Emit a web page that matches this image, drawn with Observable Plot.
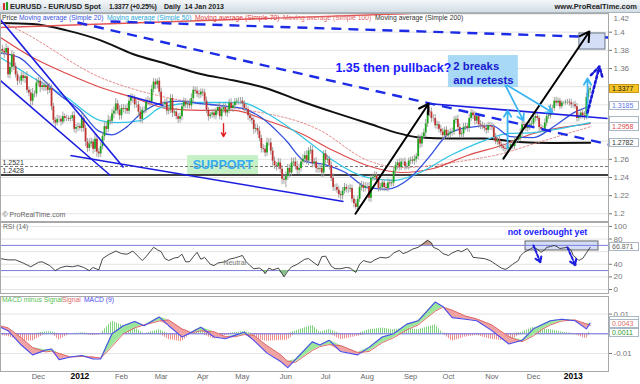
<!DOCTYPE html>
<html><head><meta charset="utf-8">
<script src="https://cdn.jsdelivr.net/npm/d3@7"></script>
<script src="https://cdn.jsdelivr.net/npm/@observablehq/plot@0.6"></script>
<style>
html,body{margin:0;padding:0;background:#fff;}
#wrap{position:relative;width:640px;height:384px;overflow:hidden;font-family:"Liberation Sans",Arial,sans-serif;color:#333;}
.abs{position:absolute;white-space:nowrap;}
#hdr{left:0;top:0;width:640px;height:13px;background:linear-gradient(#f4f7f9,#d3dde4);border-bottom:1px solid #a9b5bd;box-sizing:border-box;}
.ht{font-weight:bold;font-size:7.5px;color:#222;top:1.5px;line-height:10px;}
.lg{font-size:6.75px;line-height:8px;}
.vb{position:absolute;left:609px;width:26px;height:7px;line-height:7px;font-size:7px;padding-left:2px;border:1px solid #a9b6c6;background:#fff;white-space:nowrap;}
</style></head>
<body>
<svg width="0" height="0" style="position:absolute">
 <defs>
  <pattern id="hgreen" width="2" height="4" patternUnits="userSpaceOnUse"><rect width="1" height="4" fill="#7fd27f"/></pattern>
  <pattern id="hred" width="2" height="4" patternUnits="userSpaceOnUse"><rect width="1" height="4" fill="#ee9090"/></pattern>
 </defs>
</svg>
<div id="wrap">
 <div id="pPrice" class="abs" style="left:0;top:13px"></div>
 <div id="pRsi" class="abs" style="left:0;top:222px"></div>
 <div id="pMacd" class="abs" style="left:0;top:296px"></div>
 <div id="hdr" class="abs">
  <span class="abs" style="left:3px;top:3px;width:2px;height:7px;background:#d03030"></span>
  <span class="abs" style="left:6px;top:2px;width:2px;height:8px;background:#20a020"></span>
  <span class="abs ht" style="left:10px">EURUSD - EUR/USD Spot</span>
  <span class="abs ht" style="left:109px;font-size:7px;letter-spacing:-0.3px">1.3377 (+0.25%)</span>
  <span class="abs ht" style="left:164px;font-size:7px">Daily&nbsp; 14 Jan 2013</span>
  <span class="abs ht" style="right:3px">www.ProRealTime.com</span>
 </div>
 <span class="abs lg" style="left:2px;top:13.5px;color:#333">Price</span>
 <span class="abs lg" style="left:19px;top:13.5px;color:#3a55e0">Moving average (Simple 20)</span>
 <span class="abs lg" style="left:107px;top:13.5px;color:#2aa8d8">Moving average (Simple 50)</span>
 <span class="abs lg" style="left:195px;top:13.5px;color:#e04040">Moving average (Simple 70)</span>
 <span class="abs lg" style="left:283px;top:13.5px;color:#e06a6a">Moving average (Simple 100)</span>
 <span class="abs lg" style="left:375px;top:13.5px;color:#333">Moving average (Simple 200)</span>
 <span class="abs lg" style="left:3px;top:222.5px;color:#666">RSI (14)</span>
 <span class="abs lg" style="left:2px;top:296px;color:#55c055">MACD minus Signal</span>
 <span class="abs lg" style="left:62px;top:296px;color:#e06a6a">Signal</span>
 <span class="abs lg" style="left:84px;top:296px;color:#4b4bf0">MACD (9)</span>
</div>
<script>
// ---------- DATA ----------
const monthNames = ["Jan","Feb","Mar","Apr","May","Jun","Jul","Aug","Sep","Oct","Nov","Dec"];
const firstDay = "2011-11-03";
const firstOpen = 13760; // pips (x 1e-4)
const closes = [
 13810,13790,13770,13820,13530,13610,13750,13620,13530,13460,13460,13520,13490,13510,13360,13330,13240,13320,13320,13440,
 13460,13390,13410,13390,13410,13360,13380,13180,13030,13000,13040,13040,13010,13070,13050,13050,13040,13050,13080,12930,12950,12960,
 12940,13050,12940,12790,12720,12770,12790,12710,12820,12680,12660,12740,12850,12960,12930,13030,13020,13100,13130,13210,13140,13080,
 13160,13150,13160,13130,13240,13280,13270,13200,13200,13120,13040,13140,13140,13230,13240,13230,13370,13450,13420,13460,13340,
 13200,13200,13220,13130,13140,13270,13110,13120,13070,13040,13070,13180,13230,13200,13210,13190,13270,13360,13350,13320,13310,13340,
 13330,13240,13140,13070,13090,13110,13080,13130,13170,13070,13150,13170,13110,13140,13220,13160,13190,13230,13240,13240,13240,
 13210,13160,13150,13080,13050,13030,12930,12940,12910,12830,12720,12710,12670,12780,12780,12690,12580,12530,12520,12560,12490,12380,12370,
 12410,12500,12450,12560,12570,12520,12480,12500,12570,12600,12640,12580,12690,12700,12550,12570,12500,12490,12500,12450,12660,
 12590,12600,12530,12390,12290,12290,12260,12210,12200,12250,12290,12270,12270,12280,12160,12110,12070,12160,12290,12310,12280,12300,
 12300,12170,12390,12400,12420,12370,12280,12290,12340,12290,12280,12340,12330,12340,12470,12530,12560,12510,12570,12570,12520,12520,12580,
 12590,12580,12600,12630,12820,12770,12850,12890,12990,13130,13120,13050,13050,12970,12980,12930,12900,12860,12920,12860,
 12880,12900,12900,13030,13040,12950,12870,12880,12950,12960,12940,13050,13110,13080,13020,13070,12980,12970,12960,12940,12920,12970,12960,
 12950,12840,12790,12810,12760,12740,12720,12710,12720,12730,12760,12740,12810,12810,12830,12890,12980,12970,12940,12950,12980,12990,
 13050,13070,13050,12950,12930,12930,13000,13070,13080,13160,13160,13240,13220,13240,13180,13220,13220,13230,13230,13220,13200,
 13200,13180,13050,13070,13110,13080,13070,13280,13360,13377
];
const wickUp = [
 40,45,35,50,25,60,45,30,40,35,50,40,45,30,55,35,40,60,35,50,
 45,40,50,35,45,30,55,40,35,30,45,40,35,50,30,35,25,30,40,45,35,40,
 30,50,45,35,40,55,45,30,60,40,35,45,40,50,45,55,40,50,45,60,40,50,
 40,45,35,50,45,40,35,30,45,40,55,35,40,45,50,35,45,40,35,26,40,
 45,35,40,50,35,45,40,35,45,30,40,35,45,40,35,45,50,40,35,45,40,35,
 35,40,45,30,25,40,45,35,40,50,35,40,45,35,40,45,35,40,30,35,40,
 40,35,45,30,50,40,35,45,40,50,35,45,40,55,45,50,40,45,35,50,45,40,55,
 50,45,40,55,45,50,60,45,40,50,45,55,40,50,45,40,50,45,40,55,35,
 40,45,35,40,50,35,40,45,35,40,45,35,40,45,35,40,45,35,50,45,40,45,
 40,45,35,40,45,40,35,45,40,35,40,45,35,40,45,40,35,45,40,35,45,40,35,
 35,40,45,35,50,45,40,45,50,60,42,45,40,45,40,35,45,40,35,40,
 40,35,45,40,35,45,40,35,45,40,35,45,40,35,45,40,35,45,40,35,45,40,35,
 40,35,45,30,40,35,30,35,40,35,30,35,40,35,30,45,40,35,30,35,40,35,
 40,35,45,30,35,40,45,35,40,45,35,40,45,35,30,25,20,25,30,35,40,
 30,40,35,40,35,40,45,50,40,26
];
const wickDn = [
 35,40,60,30,40,45,55,40,35,50,30,45,40,55,35,40,60,50,45,35,
 40,55,35,45,40,50,35,45,40,55,30,35,45,30,40,35,25,30,35,40,50,45,
 25,45,40,50,45,35,40,55,35,56,45,40,35,45,50,35,45,40,55,40,45,50,
 45,40,55,35,40,45,50,40,35,45,40,50,45,35,40,45,35,40,50,45,35,
 40,50,35,45,40,35,50,40,35,45,40,45,35,40,45,35,40,50,35,40,45,40,
 40,45,35,50,30,40,35,45,40,35,45,40,35,50,40,35,45,40,35,40,35,
 45,40,35,50,40,45,55,40,45,35,50,40,45,40,35,45,55,40,50,35,45,60,45,
 82,40,50,35,45,40,45,50,40,35,45,40,50,35,45,40,50,45,40,50,45,
 45,40,50,35,40,45,35,40,50,45,35,40,45,35,40,45,28,50,35,40,45,40,
 35,40,45,35,40,45,40,35,40,45,35,40,45,35,40,35,45,40,35,40,45,35,40,
 40,35,45,40,35,50,40,35,45,40,50,45,40,35,45,40,35,45,40,35,
 35,40,45,35,40,45,35,40,45,35,40,45,35,40,45,35,40,45,35,40,45,35,40,
 35,40,30,35,40,30,35,40,30,35,40,30,35,40,30,35,40,30,35,40,30,35,
 35,40,30,45,35,30,35,40,30,35,40,30,35,40,30,25,20,25,30,35,40,
 35,30,40,35,30,35,40,35,45,40
];

const priceTicks = [1.2,1.22,1.24,1.26,1.28,1.3,1.32,1.34,1.36,1.38,1.4,1.42];
const priceTickLabels = [1.2,1.22,1.24,1.26,1.36,1.38,1.4];   // others are covered by value boxes
const priceTopLabel = [1.42];
const supportLevels = [1.2521, 1.2428];

// moving averages (trading-day index, value)
const sma20Day = [0,10,20,30,42,52,59,67,74,85,95,107,117,128,138,151,161,172,182,194,204,217,227,237,247,260,270,282,292,304,312];
const sma20Val = [1.377,1.372,1.353,1.333,1.314,1.291,1.287,1.296,1.310,1.322,1.324,1.321,1.319,1.316,1.306,1.281,1.258,1.254,1.246,1.229,1.227,1.240,1.263,1.288,1.295,1.297,1.285,1.284,1.295,1.312,1.3185];
const sma50Day = [0,17,35,53,62,74,85,106,127,141,155,169,176,194,208,222,238,256,268,282,296,312];
const sma50Val = [1.3721,1.3501,1.3281,1.3027,1.3005,1.3027,1.3171,1.3226,1.3226,1.3105,1.2917,1.2697,1.2587,1.2400,1.2367,1.2455,1.2642,1.2807,1.2884,1.2895,1.2939,1.3005];
const sma70Day = [0,17,35,53,70,88,106,123,141,159,176,194,212,229,247,265,282,308,312];
const sma70Val = [1.3942,1.3721,1.3545,1.3391,1.3281,1.3160,1.3138,1.3138,1.3027,1.2884,1.2697,1.2532,1.2455,1.2499,1.2642,1.2752,1.2884,1.2983,1.2995];
const sma100Day = [0,7,53,88,123,169,194,212,247,265,282,312];
const sma100Val = [1.411,1.405,1.350,1.328,1.317,1.292,1.259,1.251,1.259,1.266,1.277,1.2958];
const sma200Day = [0,17,35,53,70,88,106,123,141,159,176,194,212,222,238,256,274,291,312];
const sma200Val = [1.410,1.409,1.402,1.391,1.376,1.365,1.354,1.347,1.338,1.324,1.312,1.300,1.288,1.284,1.283,1.283,1.279,1.278,1.2782];

// drawn lines: [day1, price1, day2, price2]
const redTrend = [[0,1.4052,217,1.4206]];
const blueTrend = [[0,1.4136,65.1,1.2510],[0,1.3468,58.2,1.2422],[37,1.2642,181.5,1.2135],[67.2,1.3303,86.2,1.3193],[225.9,1.3215,321.2,1.3050]];
const dashedTrend = [[40.7,1.4107,321.7,1.2764],[58.2,1.4118,321.7,1.3942]];
const blackArrows = [[187.8,1.2001,226.5,1.3212],[266.1,1.2608,311.6,1.4008]];
const cyanArrows = [[268.3,1.2719,268.3,1.3137],[310.6,1.3061,310.6,1.3490],[267.2,1.3413,276.7,1.3027],[268.3,1.3413,292.1,1.3116]];
const dottedArrows = [[310.6,1.3116,316.9,1.3622]];
const redArrows = [[118,1.2993,118,1.2851]];
// boxes: [day1, day2, price1, price2]
const targetBox = [[306.3,320.1,1.3809,1.3986]];
const noteBox = [[237,274,1.339,1.3743]];
const supportBox = [[99,136.5,1.2432,1.2641]];
// notes: day, price
const pullbackNote = [{d:177.2, p:1.3603, t:"1.35 then pullback?"}];
const breaksNote = [{d:239.6, p:1.3625, t:"2 breaks"},{d:239.6, p:1.3472, t:"and retests"}];
const supportNote = [{d:117.7, p:1.2537, t:"SUPPORT"}];
const priceLabelVals = [1.3003, 1.2958, 1.2782, 1.3185, 1.3377];

// RSI
const rsiDay = [0,4,8,12,16,20,22,26,29,32,35,38,41,44,47,49,52,54,57,61,64,67,70,73,75,77,81,83,85,87,89,92,94,96,98,100,102,104,106,108,111,113,115,119,121,124,126,128,130,132,134,137,139,140,142,144,147,149,150,152,154,157,159,161,163,166,168,170,172,175,177,180,183,185,188,190,192,194,196,198,201,204,206,208,211,213,215,218,221,223,226,228,229,232,234,237,239,242,244,247,249,250,253,256,258,259,262,265,267,268,271,274,275,277,279,282,284,286,288,289,291,293,295,296,298,300,302,303,305,306,307,308,310,312];
const rsiVal = [49,47,47,42,36,43,44,38,30,35,37,36,38,35,30,35,31,49,55,61,57,56,61,52,46,52,67,63,60,49,46,50,51,56,44,44,52,59,48,51,40,38,42,44,48,50,52,54,44,38,33,34,30,25,34,31,34,25,20,29,36,40,44,48,49,42,38,52,53,37,33,33,35,34,27,40,46,44,43,47,51,50,52,58,62,57,59,64,67,71,78,74,67,63,57,54,58,62,60,65,57,51,50,49,47,46,40,34,32,33,40,46,53,59,62,67,64,59,63,67,68,70,67,65,66,67,62,54,49,46,48,49,58,66.871];
const rsiTicks = [0,20,40,60,80,100];
const rsiTickLabels = [0,20,40,80,100];
const rsiBands = [30,70];
const rsiBox = [[277.8,316.4,61.9,76.2]];
const rsiArrows = [[282,69.8,285.7,42.9],[300,66.7,304.2,38.1]];
const rsiNotes = [{d:289.4, v:90.5, t:"not overbought yet"}];
const neutralNote = [{d:124, v:43, t:"Neutral"}];

// MACD
const macdDay = [0,4,11,17,24,27,31,37,43,49,53,59,65,71,76,84,89,96,101,106,113,119,124,129,134,141,148,152,156,165,169,174,180,189,195,202,208,215,221,230,234,239,246,252,260,269,276,282,287,291,297,304,310,312];
const macdVal = [0.0033,0.0016,-0.0057,-0.0107,-0.0082,-0.0077,-0.0131,-0.0118,-0.0110,-0.0128,-0.0128,0.0000,0.0041,0.0062,0.0041,0.0085,0.0041,-0.0016,0.0008,0.0033,-0.0016,-0.0025,-0.0008,0.0008,-0.0033,-0.0098,-0.0139,-0.0172,-0.0131,-0.0041,-0.0057,-0.0033,-0.0090,-0.0107,-0.0069,-0.0016,0.0000,0.0049,0.0066,0.0161,0.0139,0.0082,0.0074,0.0066,0.0016,-0.0052,-0.0033,0.0025,0.0049,0.0066,0.0074,0.0066,0.0025,0.0054];
const sigVal = [0.0040,0.0030,-0.0020,-0.0070,-0.0092,-0.0088,-0.0100,-0.0118,-0.0115,-0.0118,-0.0124,-0.0065,0.0000,0.0030,0.0045,0.0065,0.0070,0.0025,0.0005,0.0015,0.0010,-0.0015,-0.0015,-0.0004,-0.0008,-0.0060,-0.0105,-0.0140,-0.0145,-0.0085,-0.0065,-0.0055,-0.0060,-0.0095,-0.0090,-0.0045,-0.0020,0.0020,0.0045,0.0115,0.0135,0.0120,0.0090,0.0075,0.0045,-0.0015,-0.0040,-0.0010,0.0025,0.0045,0.0065,0.0070,0.0050,0.0043];
const macdTicks = [-0.01,0,0.01];
const macdTickLabels = [-0.01,0.01];
const macdLabelVals = [0.0054, 0.0043, 0.0011];

// ---------- BUILD ----------
const days = [];
for (let t = Date.parse(firstDay); days.length < closes.length; t += 864e5) {
  const d = new Date(t), w = d.getUTCDay();
  if (w !== 0 && w !== 6) days.push(d);
}
const candles = closes.map((c, i) => {
  const o = i ? closes[i-1] : firstOpen;
  return {i, o: o/1e4, c: c/1e4, h: (Math.max(o,c) + (wickUp[i] ?? 35))/1e4, l: (Math.min(o,c) - (wickDn[i] ?? 35))/1e4};
});
const monthTicks = [];
days.forEach((d, i) => {
  if (i > 0 && d.getUTCMonth() !== days[i-1].getUTCMonth()) {
    const m = d.getUTCMonth();
    monthTicks.push({i, label: m === 0 ? String(d.getUTCFullYear()) : monthNames[m], year: m === 0});
  }
});
const pts = (ds, vs) => ds.map((d, k) => ({d, v: vs[k]}));
const seg = a => a.map(([d1,p1,d2,p2]) => ({d1,p1,d2,p2}));
const box = a => a.map(([d1,d2,p1,p2]) => ({d1,d2,p1,p2}));
const L = {x1:"d1", y1:"p1", x2:"d2", y2:"p2"};
const R = {x1:"d1", x2:"d2", y1:"p1", y2:"p2"};

const font = '"Liberation Sans", Arial, sans-serif';
const base = {width: 640, marginLeft: 0, marginRight: 32, x: {domain: [0, 321.7], axis: null},
  style: {fontFamily: font, fontSize: "8px", background: "transparent", overflow: "visible", color: "#666"}};
const tickOpts = {anchor: "right", tickSize: 3, tickPadding: 2, color: "#777"};

const pricePlot = Plot.plot({
  ...base, height: 208, marginTop: 0, marginBottom: 0,
  y: {domain: [1.19152, 1.42059]},
  marks: [
    Plot.gridY(priceTicks, {stroke: "#e3e3e3", strokeOpacity: 1}),
    Plot.rect(box(supportBox), {...R, fill: "#c6f1c6"}),
    Plot.ruleY(supportLevels.slice(0,1), {stroke: "#777", strokeDasharray: "3,2", strokeWidth: 1.2}),
    Plot.ruleY(supportLevels.slice(1), {stroke: "#000", strokeWidth: 1.4}),
    Plot.text(supportLevels, {y: d => d, frameAnchor: "left", text: d => d.toFixed(4), textAnchor: "start", dx: 2, dy: -4, fontSize: 7, fill: "#333"}),
    Plot.text(supportNote, {x: "d", y: "p", text: "t", fill: "#36abf2", fontSize: 12.5, fontWeight: "bold"}),
    Plot.line(pts(sma200Day, sma200Val), {x: "d", y: "v", stroke: "#111", strokeWidth: 2, curve: "monotone-x"}),
    Plot.line(pts(sma100Day, sma100Val), {x: "d", y: "v", stroke: "#e58888", strokeWidth: 1, strokeDasharray: "2,2", curve: "monotone-x"}),
    Plot.line(pts(sma70Day, sma70Val), {x: "d", y: "v", stroke: "#dc4a4a", strokeWidth: 1.2, curve: "monotone-x"}),
    Plot.line(pts(sma50Day, sma50Val), {x: "d", y: "v", stroke: "#33c6e6", strokeWidth: 1.3, curve: "monotone-x"}),
    Plot.line(pts(sma20Day, sma20Val), {x: "d", y: "v", stroke: "#3450e0", strokeWidth: 1.3, curve: "monotone-x"}),
    Plot.ruleX(candles, {x: "i", y1: "l", y2: "h", stroke: "#9a9a9a", strokeWidth: 0.9}),
    Plot.ruleX(candles, {x: "i", y1: "o", y2: "c", stroke: d => d.c >= d.o ? "#1ca51c" : "#bf3333", strokeWidth: 1.8}),
    Plot.link(seg(redTrend), {...L, stroke: "#e25555", strokeWidth: 1.4, clip: true}),
    Plot.link(seg(blueTrend), {...L, stroke: "#1c1ce0", strokeWidth: 1.6, clip: true}),
    Plot.link(seg(dashedTrend), {...L, stroke: "#1c2ce6", strokeWidth: 2.4, strokeDasharray: "10,7", clip: true}),
    Plot.rect(box(targetBox), {...R, fill: "#d4def6", stroke: "#6b7788"}),
    Plot.rect(box(noteBox), {...R, fill: "#9ed5f6", fillOpacity: 0.9}),
    Plot.arrow(seg(blackArrows), {...L, stroke: "#000", strokeWidth: 2, headLength: 8}),
    Plot.arrow(seg(cyanArrows), {...L, stroke: "#3ab4f2", strokeWidth: 1.8, headLength: 6}),
    Plot.arrow(seg(dottedArrows), {...L, stroke: "#1a1ad8", strokeWidth: 2.6, strokeDasharray: "2.5,2.5", headLength: 7}),
    Plot.arrow(seg(redArrows), {...L, stroke: "#e02020", strokeWidth: 1.4, headLength: 5}),
    Plot.text(pullbackNote, {x: "d", y: "p", text: "t", textAnchor: "start", fill: "#1a1aff", fontSize: 12.5, fontWeight: "bold"}),
    Plot.text(breaksNote, {x: "d", y: "p", text: "t", textAnchor: "start", fill: "#1a1ad0", fontSize: 11.3, fontWeight: "bold"}),
    Plot.text(["© ProRealTime.com"], {frameAnchor: "bottom-left", text: d => d, dx: 2, dy: -5, textAnchor: "start", fontSize: 7, fill: "#666"}),
    Plot.frame({stroke: "#a8a8a8"}),
    Plot.axisY(priceTickLabels, {...tickOpts, tickFormat: d => String(+d.toFixed(2))}),
    Plot.text(priceTopLabel, {y: d => d, frameAnchor: "right", text: d => d.toFixed(2), textAnchor: "start", dx: 5, dy: 4.5, fill: "#777"})
  ]
});
document.getElementById("pPrice").append(pricePlot);

const rsi = pts(rsiDay, rsiVal);
const rsiPlot = Plot.plot({
  ...base, height: 71, marginTop: 0, marginBottom: 0,
  y: {domain: [-6.35, 106.3]},
  marks: [
    Plot.gridY(rsiTicks, {stroke: "#e3e3e3", strokeOpacity: 1}),
    Plot.rect(box(rsiBox), {...R, fill: "#d3ddf6", stroke: "#666"}),
    Plot.ruleY(rsiBands, {stroke: "#7b7bdc"}),
    Plot.areaY(rsi, {x: "d", y1: 30, y2: d => Math.min(d.v, 30), fill: "#86c08a"}),
    Plot.areaY(rsi, {x: "d", y1: 70, y2: d => Math.max(d.v, 70), fill: "#c39a8c"}),
    Plot.line(rsi, {x: "d", y: "v", stroke: "#333", strokeWidth: 0.9}),
    Plot.text(neutralNote, {x: "d", y: "v", text: "t", fontSize: 7, fill: "#777"}),
    Plot.arrow(seg(rsiArrows), {...L, stroke: "#1a1ae0", strokeWidth: 2, strokeDasharray: "3,2", headLength: 5}),
    Plot.text(rsiNotes, {x: "d", y: "v", text: "t", fill: "#1a1aff", fontSize: 8.8, fontWeight: "bold"}),
    Plot.frame({stroke: "#a8a8a8"}),
    Plot.axisY(rsiTickLabels, tickOpts)
  ]
});
document.getElementById("pRsi").append(rsiPlot);

const macd = macdDay.map((d, k) => ({d, m: macdVal[k], s: sigVal[k]}));
const macdPlot = Plot.plot({
  ...base, height: 88, marginTop: 0, marginBottom: 13,
  y: {domain: [-0.01914, 0.01893]},
  marks: [
    Plot.gridY(macdTicks, {stroke: "#e3e3e3", strokeOpacity: 1}),
    Plot.areaY(macd, {x: "d", y1: 0, y2: d => Math.max(d.m - d.s, 0), fill: "url(#hgreen)"}),
    Plot.areaY(macd, {x: "d", y1: 0, y2: d => Math.min(d.m - d.s, 0), fill: "url(#hred)"}),
    Plot.ruleY([0], {stroke: "#6e6ee0"}),
    Plot.areaY(macd, {x: "d", y1: "s", y2: d => Math.max(d.m, d.s), fill: "#9be69b"}),
    Plot.areaY(macd, {x: "d", y1: "s", y2: d => Math.min(d.m, d.s), fill: "#f0a3a3"}),
    Plot.line(macd, {x: "d", y: "s", stroke: "#e06a6a", strokeWidth: 1}),
    Plot.line(macd, {x: "d", y: "m", stroke: "#4b4bf0", strokeWidth: 1.1}),
    Plot.frame({stroke: "#a8a8a8"}),
    Plot.axisY(macdTickLabels, {...tickOpts, tickFormat: d => d.toFixed(2)}),
    Plot.text(monthTicks.filter(m => !m.year), {x: "i", text: "label", frameAnchor: "bottom", dy: 7, fill: "#666", fontSize: 7.5}),
    Plot.text(monthTicks.filter(m => m.year), {x: "i", text: "label", frameAnchor: "bottom", dy: 7, fill: "#000", fontSize: 8.5, fontWeight: "bold"})
  ]
});
document.getElementById("pMacd").append(macdPlot);

// value boxes on the right axis
const wrap = document.getElementById("wrap");
function vbox(top, scale, v, text, color, bg, border, shift) {
  const el = document.createElement("div");
  el.className = "vb";
  el.style.top = (top + scale.apply(v) - 4.5 + (shift || 0)) + "px";
  el.style.color = color;
  if (bg) el.style.background = bg;
  if (border) el.style.borderColor = border;
  el.textContent = text;
  wrap.append(el);
}
const py = pricePlot.scale("y");
const priceLabelColors = ["#cc4444", "#e04848", "#333", "#5a74ee", "#111"];
priceLabelVals.forEach((v, k) => vbox(13, py, v, k === 0 ? "" : v.toFixed(4), priceLabelColors[k], k === 4 ? "#f6c428" : null, k === 4 ? "#c99a10" : null, k === 0 ? -1.5 : 0));
vbox(222, rsiPlot.scale("y"), rsiVal[rsiVal.length-1], String(rsiVal[rsiVal.length-1]), "#666");
const macdLabelColors = ["#4b4bf0", "#e06a6a", "#2a9a2a"];
const my = macdPlot.scale("y");
macdLabelVals.forEach((v, k) => vbox(296, my, v, k === 0 ? "" : v.toFixed(4), macdLabelColors[k], null, null, k === 0 ? -2 : k === 1 ? -1 : 1.5));
</script>
</body></html>
